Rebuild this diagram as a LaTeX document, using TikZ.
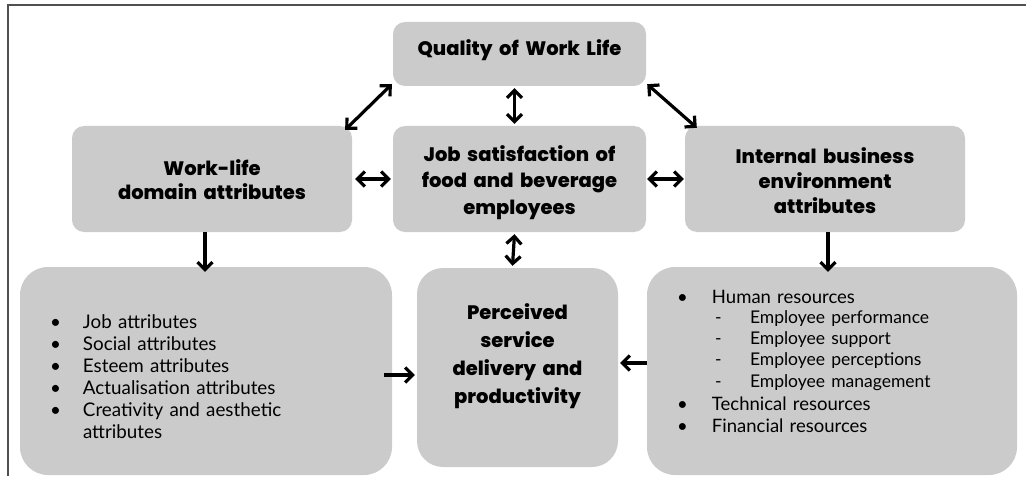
\documentclass[tikz,border=0pt]{standalone}
\usepackage{fontspec}
\setmainfont{Lato}
\newfontfamily\headfont{Poppins ExtraBold}
\usetikzlibrary{arrows.meta}
\definecolor{boxgray}{HTML}{CBCBCB}
\definecolor{framegray}{HTML}{505050}
\begin{document}
\begin{tikzpicture}[x=1pt,y=-1pt,
  hbox/.style={fill=boxgray, rounded corners=12pt, inner sep=0pt, align=center,
    text height=13pt, font=\headfont\fontsize{19.5}{25}\selectfont},
  lbox/.style={fill=boxgray, rounded corners=28pt, inner sep=0pt, align=left,
    text height=12pt, font=\fontsize{18.8}{22}\selectfont},
  dbl/.style={line width=3.2pt, {Straight Barb[length=7.5pt,width=15pt]}-{Straight Barb[length=7.5pt,width=15pt]}},
  sgl/.style={line width=3.2pt, -{Straight Barb[length=7.5pt,width=15pt]}},
]
\useasboundingbox (0,0) rectangle (1026,484);
\draw[framegray, line width=1.5pt] (8,476) -- (8,5) -- (1026,5);

\node[hbox, minimum width=253pt, minimum height=64pt, text width=245pt, text depth=10pt] (qwl) at (519.5,54) {Quality of Work Life};
\node[hbox, minimum width=280pt, minimum height=106pt, text width=270pt, text depth=19pt, font=\headfont\fontsize{19.5}{24}\selectfont] (wl) at (212,179) {Work-life\\domain attributes};
\node[hbox, minimum width=253pt, minimum height=106pt, text width=245pt, text depth=49pt, font=\headfont\fontsize{19.5}{27}\selectfont] (js) at (519.5,179) {Job satisfaction of\\food and beverage\\employees};
\node[hbox, minimum width=280pt, minimum height=106pt, text width=270pt, text depth=43pt, font=\headfont\fontsize{19.5}{25}\selectfont] (int) at (825,179) {Internal business\\environment\\attributes};
\node[hbox, rounded corners=26pt, minimum width=201pt, minimum height=199pt, text width=199pt, text depth=109pt, font=\headfont\fontsize{19.5}{28}\selectfont] (perc) at (517.5,367.5) {Perceived\\service\\delivery and\\productivity};

\node[lbox, minimum width=372pt, minimum height=208pt, text width=312pt, text depth=98pt] (lst) at (206,371) {%
\makebox[33pt][l]{\textbullet}Job attributes\\
\makebox[33pt][l]{\textbullet}Social attributes\\
\makebox[33pt][l]{\textbullet}Esteem attributes\\
\makebox[33pt][l]{\textbullet}Actualisation attributes\\
\makebox[33pt][l]{\textbullet}Creativity and aesthetic\\
\hspace*{33pt}attributes};

\node[lbox, minimum width=370pt, minimum height=208pt, text width=310pt, text depth=148pt, font=\fontsize{18.5}{22}\selectfont] (rst) at (832,371) {%
\makebox[35pt][l]{\textbullet}Human resources\\[-1pt]
{\fontsize{17.5}{21}\selectfont\hspace*{38pt}\makebox[35pt][l]{-}Employee performance\\
\hspace*{38pt}\makebox[35pt][l]{-}Employee support\\
\hspace*{38pt}\makebox[35pt][l]{-}Employee perceptions\\
\hspace*{38pt}\makebox[35pt][l]{-}Employee management}\\[1pt]
\makebox[35pt][l]{\textbullet}Technical resources\\
\makebox[35pt][l]{\textbullet}Financial resources};

\draw[dbl] ([shift={(-7,4)}]wl.north east) -- ([shift={(-1,-2)}]qwl.south west);
\draw[dbl] ([shift={(1,-2)}]qwl.south east) -- ([shift={(12,2)}]int.north west);
\draw[dbl] ([shift={(-5,2)}]qwl.south) -- ([shift={(-5,-2)}]js.north);
\draw[dbl] ([xshift=3]wl.east) -- ([xshift=-2]js.west);
\draw[dbl] ([xshift=1]js.east) -- ([xshift=-1]int.west);
\draw[dbl] ([shift={(-5,2)}]js.south) -- ([shift={(-5,-2)}]perc.north);
\draw[sgl] ([xshift=-7]wl.south) -- ([xshift=-1,yshift=-5]lst.north);
\draw[sgl] ([xshift=3]int.south) -- ([xshift=-4,yshift=-5]rst.north);
\draw[sgl] ([shift={(-8,4)}]lst.east) -- ([shift={(-2,7.5)}]perc.west);
\draw[sgl] ([shift={(0,-8)}]rst.west) -- ([shift={(2,-4.5)}]perc.east);
\end{tikzpicture}
\end{document}
